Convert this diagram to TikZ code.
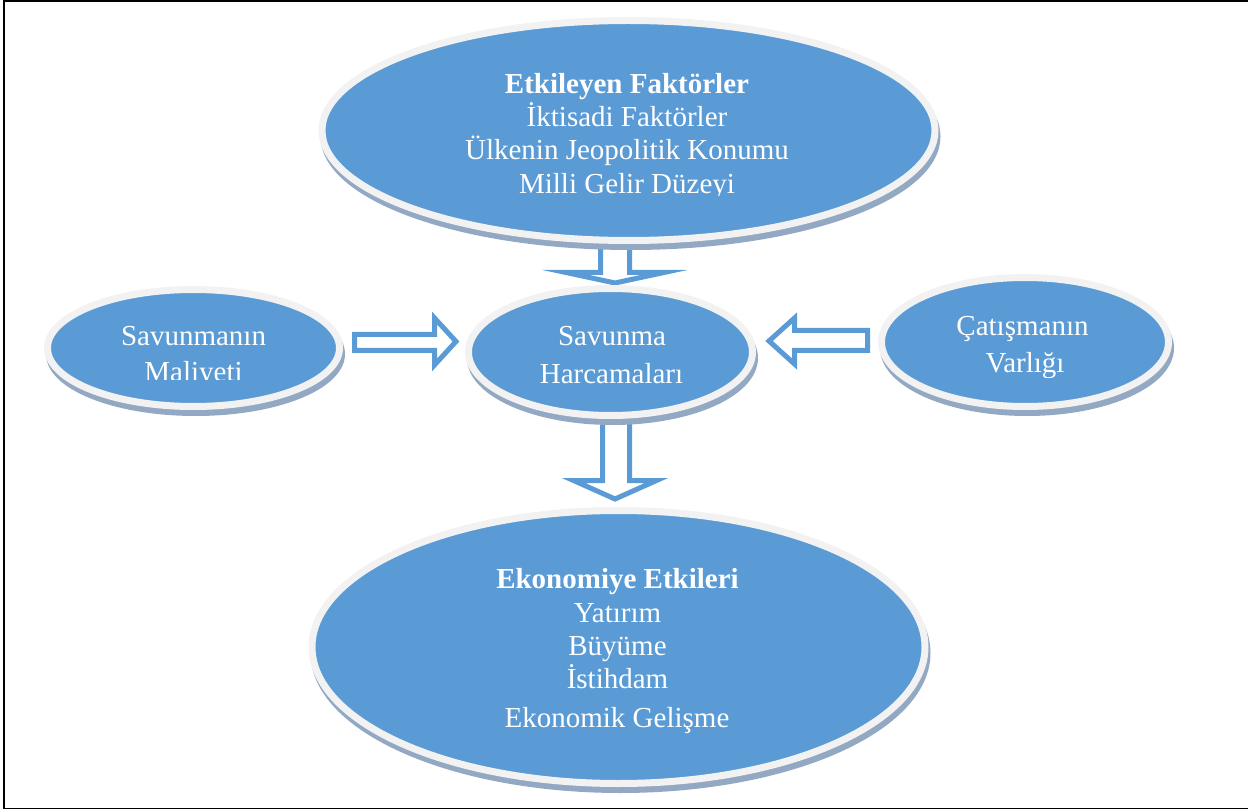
\documentclass[tikz,border=0pt]{standalone}
\usepackage{fontspec}
\setmainfont{Liberation Serif}
\usetikzlibrary{shapes.geometric,shadows}
\definecolor{ellblue}{HTML}{5B9BD5}
\definecolor{rimc}{HTML}{F2F2F2}
\definecolor{shadowc}{HTML}{93A9C3}
\definecolor{arrowc}{HTML}{5B9BD5}
\begin{document}
\begin{tikzpicture}[x=1pt,y=-1pt,
  ell/.style={ellipse, inner sep=0pt, fill=ellblue, draw=rimc, line width=7pt,
    general shadow={fill=shadowc, draw=shadowc, line width=7pt, shadow xshift=2pt, shadow yshift=-6pt}},
  lbl/.style={anchor=base, text=white, inner sep=0pt, font=\fontsize{29}{33}\selectfont},
  lblb/.style={lbl, font=\fontsize{29}{33}\selectfont\bfseries},
  blockarrow/.style={draw=arrowc, fill=white, line width=5pt, line join=miter}
]
\useasboundingbox (0,0) rectangle (1248,810);
% frame
\draw[line width=1.5pt] (1248,1) -- (4,1) -- (4,808.5) -- (1248,808.5);

% block arrows
\draw[blockarrow] (600.5,230) -- (600.5,272.5) -- (566,272.5) -- (615,283) -- (664,272.5) -- (629.5,272.5) -- (629.5,230) -- cycle;
\draw[blockarrow] (602.5,415) -- (602.5,480.5) -- (573.5,480.5) -- (615,499) -- (656.5,480.5) -- (629.5,480.5) -- (629.5,415) -- cycle;
\draw[blockarrow] (354.5,334.5) -- (434.5,334.5) -- (434.5,318) -- (456,341.5) -- (434.5,365) -- (434.5,350.5) -- (354.5,350.5) -- cycle;
\draw[blockarrow] (867.5,330.5) -- (794.5,330.5) -- (794.5,318) -- (769,341) -- (794.5,364) -- (794.5,350.5) -- (867.5,350.5) -- cycle;

% ellipses
\node[ell, minimum width=613pt, minimum height=220pt] (top) at (628.5,130.5) {};
\node[ell, minimum width=292pt, minimum height=117pt] (left) at (193.5,348) {};
\node[ell, minimum width=284pt, minimum height=127pt] (mid) at (610.5,352) {};
\node[ell, minimum width=287pt, minimum height=129pt] (right) at (1025,342) {};
\node[ell, minimum width=613pt, minimum height=273pt] (bot) at (618.5,647) {};

% texts
\node[lblb] (t1) at (627,93.5) {Etkileyen Faktörler};
\node[lbl] (t2) at (627,127) {İktisadi Faktörler};
\node[lbl] (t3) at (627,160) {Ülkenin Jeopolitik Konumu};
\begin{scope}
\clip (0,0) rectangle (1248,196);
\node[lbl] (t4) at (627,193.3) {Milli Gelir Düzeyi};
\end{scope}

\node[lbl] (l1) at (193.5,345) {Savunmanın};
\begin{scope}
\clip (0,0) rectangle (1248,379.5);
\node[lbl] (l2) at (193.5,381.5) {Maliyeti};
\end{scope}

\node[lbl] (m1) at (612,345.5) {Savunma};
\node[lbl] (m2) at (611.5,384) {Harcamaları};

\node[lbl] (r1) at (1022.5,336) {Çatışmanın};
\begin{scope}
\clip (0,0) rectangle (1248,377);
\node[lbl] (r2) at (1025,373) {Varlığı};
\end{scope}

\node[lblb] (b1) at (617.5,588.5) {Ekonomiye Etkileri};
\node[lbl] (b2) at (617.5,622) {Yatırım};
\node[lbl] (b3) at (617.5,655) {Büyüme};
\node[lbl] (b4) at (617.5,688) {İstihdam};
\node[lbl] (b5) at (617,727) {Ekonomik Gelişme};
\end{tikzpicture}
\end{document}
